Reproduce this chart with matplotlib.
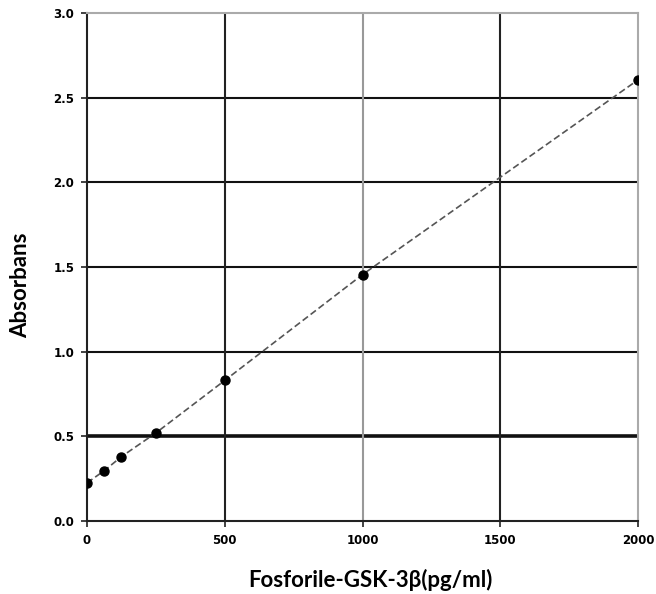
import matplotlib
matplotlib.use("Agg")
import matplotlib.pyplot as plt

conc = [0, 62.5, 125, 250, 500, 1000, 2000]
absorb = [0.225, 0.297, 0.38, 0.52, 0.83, 1.455, 2.605]
x_ticks = [0, 500, 1000, 1500, 2000]
y_ticks = [0.0, 0.5, 1.0, 1.5, 2.0, 2.5, 3.0]
y_tick_labels = ["0.0", "0.5", "1.0", "1.5", "2.0", "2.5", "3.0"]

fig = plt.figure(figsize=(6.56, 5.94), dpi=100)
ax = fig.add_axes([87/656, 73/594, 551/656, 508/594])
ax.set_xlim(0, 2000)
ax.set_ylim(0, 3.0)

# grid lines
for yv in y_ticks[1:-1]:
    ax.axhline(yv, color="#111111", lw=2.6 if yv == 0.5 else 1.5, zorder=1)
for xv in x_ticks[1:-1]:
    ax.axvline(xv, color="#999999" if xv == 1000 else "#222222", lw=1.5, zorder=1)

ax.plot(conc, absorb, linestyle=(0, (4, 2)), color="#555555", lw=1.2, zorder=2)
ax.plot(conc, absorb, linestyle="none", marker="o", color="black", markersize=6.5, zorder=3)

for s in ["left", "bottom"]:
    ax.spines[s].set_color("#222222")
    ax.spines[s].set_linewidth(1.5)
for s in ["top", "right"]:
    ax.spines[s].set_color("#aaaaaa")
    ax.spines[s].set_linewidth(1.5)

ax.set_xticks(x_ticks)
ax.set_xticklabels([str(v) for v in x_ticks], fontsize=8.5, fontweight="bold", family="DejaVu Sans")
ax.set_yticks(y_ticks)
ax.set_yticklabels(y_tick_labels, fontsize=8.5, fontweight="bold", family="DejaVu Sans")
ax.tick_params(axis="both", length=4, width=1.2, color="#222222", pad=5)

ax.set_xlabel("Fosforile-GSK-3β(pg/ml)", fontsize=16, fontweight="bold", family=["Lato", "DejaVu Sans"])
ax.set_ylabel("Absorbans", fontsize=16, fontweight="bold", family=["Lato", "DejaVu Sans"])
ax.xaxis.set_label_coords(0.515, -0.095)
ax.yaxis.set_label_coords(-0.101, 0.465)

fig.savefig("out.png", dpi=100, facecolor="white")
